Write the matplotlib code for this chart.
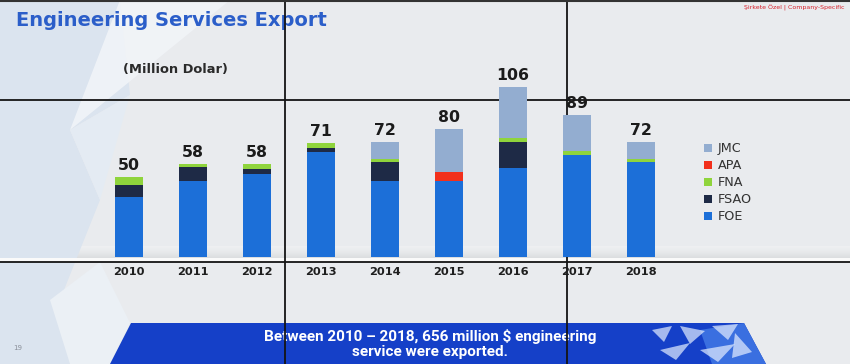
import matplotlib.pyplot as plt
from matplotlib.patches import Polygon
import numpy as np

years = ["2010", "2011", "2012", "2013", "2014", "2015", "2016", "2017", "2018"]
totals = [50, 58, 58, 71, 72, 80, 106, 89, 72]
foe = [37.5, 47.5, 52.0, 65.5, 47.3, 47.7, 55.8, 63.5, 59.4]
fsao = [7.5, 8.5, 2.8, 2.8, 12.1, 0.0, 16.3, 0.0, 0.0]
fna = [5.0, 2.0, 3.2, 2.7, 2.0, 0.0, 2.1, 2.8, 1.9]
apa = [0.0, 0.0, 0.0, 0.0, 0.0, 5.4, 0.0, 0.0, 0.0]
jmc = [0.0, 0.0, 0.0, 0.0, 10.6, 26.9, 31.8, 22.7, 10.7]

series = [("FOE", foe, "#1c6fd8"), ("FSAO", fsao, "#1e2a46"),
          ("FNA", fna, "#8fd43c"), ("APA", apa, "#f2301c"),
          ("JMC", jmc, "#93add0")]

W, H = 850, 364
fig = plt.figure(figsize=(W / 100, H / 100), dpi=100)
fig.patch.set_facecolor("#e9ebee")

# background layer in pixel coordinates
bg = fig.add_axes([0, 0, 1, 1])
bg.set_xlim(0, W)
bg.set_ylim(H, 0)
bg.axis("off")
bg.add_patch(Polygon([(0, 0), (0, 364), (110, 364), (60, 300), (100, 200), (70, 130), (130, 95), (120, 0)],
                     closed=True, color="#dbe4ef", lw=0))
bg.add_patch(Polygon([(120, 0), (230, 0), (70, 130)], closed=True, color="#f1f4f8", alpha=0.9, lw=0))
bg.add_patch(Polygon([(70, 130), (130, 95), (100, 200)], closed=True, color="#e4ebf3", lw=0))
bg.add_patch(Polygon([(50, 300), (100, 262), (130, 323), (110, 364), (70, 364)], closed=True,
                     color="#ebf0f5", lw=0))
# shadow band under the bars
grad = np.linspace(0, 1, 20).reshape(-1, 1)
bg.imshow(grad, extent=[0, W, 258, 246], cmap="Greys", alpha=0.25, aspect="auto", vmin=0, vmax=2.5)
bg.fill_between([0, W], 258, 262, color="#fafafa", lw=0)

# bottom banner
bg.add_patch(Polygon([(131, 323), (744, 323), (766, 364), (110, 364)], closed=True, color="#1540c8", lw=0))
bg.add_patch(Polygon([(700, 330), (744, 323), (766, 364), (712, 364)], closed=True, color="#3a6fe0", lw=0))
tri = [[(652, 330), (672, 326), (664, 342)], [(680, 326), (705, 331), (690, 344)],
       [(712, 326), (738, 324), (728, 340)], [(660, 350), (690, 343), (676, 360)],
       [(700, 350), (735, 344), (718, 362)], [(735, 333), (752, 352), (732, 358)]]
for t in tri:
    bg.add_patch(Polygon(t, closed=True, color="#e4eeff", alpha=0.7, lw=0))
bg.text(430, 336, "Between 2010 \u2013 2018, 656 million $ engineering", color="white",
        fontsize=11, fontweight="bold", family="Roboto", ha="center", va="center")
bg.text(430, 352, "service were exported.", color="white",
        fontsize=11, fontweight="bold", family="Roboto", ha="center", va="center")

bg.text(16, 21, "Engineering Services Export", color="#2b5ec9", fontsize=14,
        fontweight="bold", ha="left", va="center")
bg.text(845, 8, "\u015eirkete \u00d6zel | Company-Specific", color="#d8202a", fontsize=4.5,
        ha="right", va="center")
bg.text(123, 70, "(Million Dolar)", color="#2a2a2a", fontsize=9.4, fontweight="bold",
        ha="left", va="center")
bg.text(13, 348, "19", color="#8a8f99", fontsize=5, ha="left", va="center")

# chart
ax = fig.add_axes([65 / W, (H - 257) / H, 640 / W, 184 / H])
ax.set_facecolor("none")
x = np.arange(len(years))
bottom = np.zeros(len(years))
handles = {}
for name, vals, col in series:
    b = ax.bar(x, vals, width=0.44, bottom=bottom, color=col, label=name, zorder=3)
    handles[name] = b
    bottom += np.array(vals)

for xi, t in zip(x, totals):
    ax.text(xi, t + 2.5, str(t), ha="center", va="bottom", fontsize=11.3,
            fontweight="bold", color="#1b1b1b")

ax.set_xlim(-1, 9)
ax.set_ylim(0, 115)
ax.set_xticks(x)
ax.set_xticklabels(years, fontsize=8.2, fontweight="bold", color="#1e1e1e")
ax.tick_params(axis="x", length=0, pad=7)
ax.set_yticks([])
for s in ax.spines.values():
    s.set_visible(False)

order = ["JMC", "APA", "FNA", "FSAO", "FOE"]
leg = fig.legend([handles[n] for n in order], order, loc="upper left",
                 bbox_to_anchor=(699 / W, 1 - 137 / H), frameon=False, fontsize=9.2,
                 handlelength=0.65, handleheight=0.6, handletextpad=0.4,
                 labelspacing=0.32, borderaxespad=0)
for t in leg.get_texts():
    t.set_color("#333333")

# video wall seams
for xv in [285, 567]:
    bg.plot([xv, xv], [0, H], color="#141414", lw=1.3, zorder=10)
for yh in [100, 262]:
    bg.plot([0, W], [yh, yh], color="#141414", lw=1.3, zorder=10)
bg.plot([0, W], [0.8, 0.8], color="#333333", lw=1.5, zorder=10)

fig.savefig("out.png", dpi=100, facecolor=fig.get_facecolor())
